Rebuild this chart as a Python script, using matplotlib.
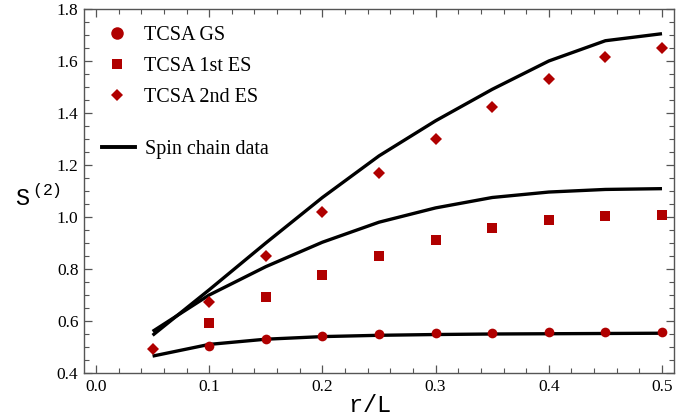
import matplotlib
matplotlib.use("Agg")
import matplotlib.pyplot as plt
from matplotlib.ticker import MultipleLocator, FormatStrFormatter
from matplotlib.lines import Line2D

plt.rcParams['font.family'] = ['Liberation Serif', 'DejaVu Serif']
plt.rcParams['mathtext.fontset'] = 'custom'
plt.rcParams['mathtext.tt'] = 'Liberation Mono'
plt.rcParams['mathtext.rm'] = 'Liberation Mono'

# TCSA data
x_gs = [0.1, 0.15, 0.2, 0.25, 0.3, 0.35, 0.4, 0.45, 0.5]
gs = [0.505, 0.530, 0.541, 0.549, 0.553, 0.555, 0.556, 0.556, 0.557]
x_es = [0.1, 0.15, 0.2, 0.25, 0.3, 0.35, 0.4, 0.45, 0.5]
es1 = [0.591, 0.691, 0.777, 0.851, 0.913, 0.959, 0.987, 1.004, 1.009]
x_es2 = [0.05, 0.1, 0.15, 0.2, 0.25, 0.3, 0.35, 0.4, 0.45, 0.5]
es2 = [0.492, 0.672, 0.851, 1.020, 1.170, 1.300, 1.422, 1.532, 1.617, 1.649]

# Spin chain data
x_chain = [0.05, 0.1, 0.15, 0.2, 0.25, 0.3, 0.35, 0.4, 0.45, 0.5]
chain_gs = [0.465, 0.510, 0.530, 0.540, 0.545, 0.548, 0.550, 0.551, 0.552, 0.553]
chain_es1 = [0.560, 0.700, 0.809, 0.903, 0.980, 1.035, 1.075, 1.096, 1.106, 1.109]
chain_es2 = [0.545, 0.720, 0.900, 1.075, 1.235, 1.370, 1.491, 1.600, 1.678, 1.705]

legend_markers = ['TCSA GS', 'TCSA 1st ES', 'TCSA 2nd ES']
legend_line = 'Spin chain data'

red = '#B00000'

fig = plt.figure(figsize=(6.98, 4.2), dpi=100)
ax = fig.add_axes([84/698, 1-373/420, (674-84)/698, (373-9)/420])

lw = 2.4
for yv in (chain_gs, chain_es1, chain_es2):
    ax.plot(x_chain, yv, color='black', lw=lw, solid_capstyle='butt')

ax.plot(x_gs, gs, 'o', color=red, ms=7, mew=0, zorder=3)
ax.plot(x_es, es1, 's', color=red, ms=6.5, mew=0, zorder=3)
ax.plot(x_es2, es2, 'D', color=red, ms=5.8, mew=0, zorder=3)

ax.set_xlim(-0.0106, 0.5106)
ax.set_ylim(0.4, 1.8)
ax.xaxis.set_major_locator(MultipleLocator(0.1))
ax.xaxis.set_minor_locator(MultipleLocator(0.02))
ax.yaxis.set_major_locator(MultipleLocator(0.2))
ax.yaxis.set_minor_locator(MultipleLocator(0.05))
ax.xaxis.set_major_formatter(FormatStrFormatter('%.1f'))
ax.yaxis.set_major_formatter(FormatStrFormatter('%.1f'))

spc = '#555555'
for s in ax.spines.values():
    s.set_color(spc)
    s.set_linewidth(1.0)
ax.tick_params(which='both', direction='in', top=True, right=True, color=spc,
               labelsize=12.5, labelcolor='black')
ax.tick_params(which='major', length=6, width=0.9, pad=4)
ax.tick_params(which='minor', length=3.5, width=0.8)

fig.text(348/698, 1-412/420, r'$\mathtt{r/L}$', fontsize=17, ha='left', va='baseline')
fig.text(15/698, 1-206/420, r'$\mathtt{S}^{\,\mathtt{(2)}}$', fontsize=17, ha='left', va='baseline')

h1 = [Line2D([], [], ls='none', marker='o', color=red, ms=9, mew=0),
      Line2D([], [], ls='none', marker='s', color=red, ms=7.5, mew=0),
      Line2D([], [], ls='none', marker='D', color=red, ms=6.5, mew=0)]
leg1 = ax.legend(h1, legend_markers, loc='upper left',
                 bbox_to_anchor=(0.0, 1.003), frameon=False, fontsize=14.5,
                 handlelength=1.5, handletextpad=0.6, labelspacing=0.6,
                 borderaxespad=0.5)
ax.add_artist(leg1)
h2 = [Line2D([], [], color='black', lw=2.8)]
ax.legend(h2, [legend_line], loc='upper left',
          bbox_to_anchor=(0.0, 0.69), frameon=False, fontsize=14.5,
          handlelength=1.65, handletextpad=0.5, borderaxespad=0.5)

fig.savefig('out.png', dpi=100)
